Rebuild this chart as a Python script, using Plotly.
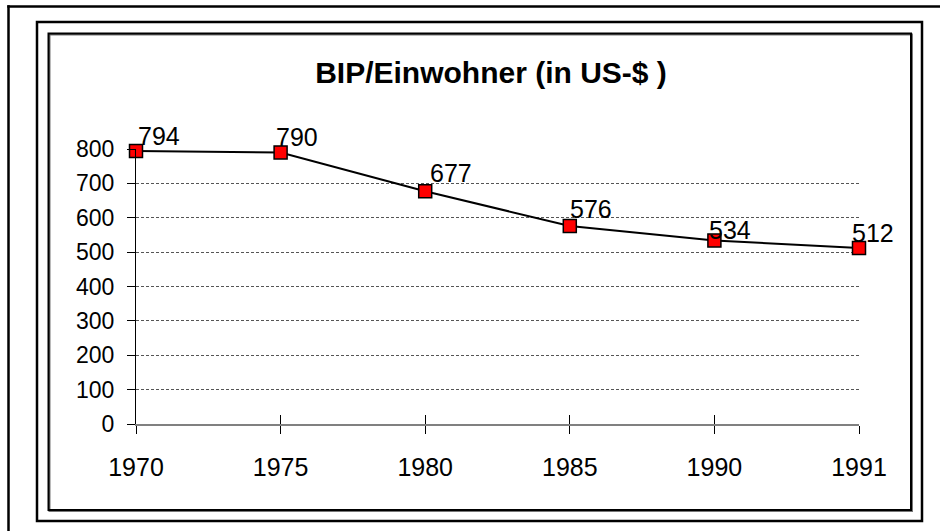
import plotly.graph_objects as go

# ---- data ----
years = ["1970", "1975", "1980", "1985", "1990", "1991"]
gdp_per_capita = [794, 790, 677, 576, 534, 512]
y_ticks = [0, 100, 200, 300, 400, 500, 600, 700, 800]
title_text = "BIP/Einwohner (in US-$ )"

# ---- label nudges (pixels), style only ----
label_dx = [0, -7, 3, -2, -7, -9]
label_dy = [-1, -1, 2, 1, -6, -1]

W, H = 940, 531
L, R, T, B = 136, 81, 149, 107
PW, PH = W - L - R, H - T - B

def px(x):
    return (x - L) / PW

def py(y):
    return (H - B - y) / PH

FONT = "Liberation Sans, Arial, sans-serif"
xs = list(range(len(years)))

fig = go.Figure()
fig.add_trace(go.Scatter(
    x=xs, y=gdp_per_capita, mode="lines+markers",
    line=dict(color="black", width=2),
    marker=dict(symbol="square", size=13, color="#ff0000",
                line=dict(color="black", width=1.5)),
    cliponaxis=False, showlegend=False, hoverinfo="skip",
))
# invisible trace for the overlay axis (inside tick halves)
fig.add_trace(go.Scatter(x=xs, y=gdp_per_capita, xaxis="x2", mode="markers",
                         marker=dict(opacity=0), showlegend=False, hoverinfo="skip"))

for i, v in enumerate(gdp_per_capita):
    fig.add_annotation(x=xs[i], y=v, text=str(v), showarrow=False,
                       xanchor="left", yanchor="bottom",
                       xshift=label_dx[i], yshift=label_dy[i],
                       font=dict(family=FONT, size=25, color="black"))

shapes = []
# outer frame: separate top and left lines
shapes.append(dict(type="line", xref="paper", yref="paper",
                   x0=px(7.3), x1=px(W + 20), y0=py(6.5), y1=py(6.5),
                   line=dict(color="black", width=2.5), layer="below"))
shapes.append(dict(type="line", xref="paper", yref="paper",
                   x0=px(8.5), x1=px(8.5), y0=py(5.3), y1=py(H + 20),
                   line=dict(color="black", width=2.5), layer="below"))
# middle frame
shapes.append(dict(type="rect", xref="paper", yref="paper",
                   x0=px(37), x1=px(922), y0=py(22), y1=py(521),
                   line=dict(color="black", width=2.5), layer="below"))
# chart frame shadow + frame
shapes.append(dict(type="rect", xref="paper", yref="paper",
                   x0=px(49.5), x1=px(912), y0=py(34.5), y1=py(511),
                   line=dict(color="#777777", width=2), layer="below"))
shapes.append(dict(type="rect", xref="paper", yref="paper",
                   x0=px(48.5), x1=px(911), y0=py(33.5), y1=py(510),
                   line=dict(color="black", width=2), layer="below"))

fig.update_layout(
    width=W, height=H,
    margin=dict(l=L, r=R, t=T, b=B),
    paper_bgcolor="white", plot_bgcolor="white",
    font=dict(family=FONT, color="black"),
    title=dict(text="<b>" + title_text + "</b>", xref="paper", yref="container",
               x=px(491), y=1 - 72 / H, xanchor="center", yanchor="middle",
               font=dict(family=FONT, size=30, color="black")),
    shapes=shapes,
    xaxis=dict(range=[0, 5], tickmode="array", tickvals=xs, ticktext=years,
               showgrid=False, zeroline=False,
               showline=True, linecolor="#808080", linewidth=2,
               ticks="outside", ticklen=8, tickwidth=1, tickcolor="black",
               tickfont=dict(family=FONT, size=25, color="black"),
               ticklabelstandoff=12, fixedrange=True),
    xaxis2=dict(range=[0, 5], overlaying="x", anchor="y", side="bottom",
                tickmode="array", tickvals=xs, showticklabels=False,
                showgrid=False, zeroline=False, showline=False,
                ticks="inside", ticklen=9, tickwidth=1, tickcolor="black"),
    yaxis=dict(range=[0, 800], tickmode="array", tickvals=y_ticks,
               showgrid=True, gridcolor="#555555", gridwidth=1, griddash="3px,2px",
               zeroline=False, showline=True, linecolor="black", linewidth=1,
               ticks="outside", ticklen=8, tickwidth=1, tickcolor="black",
               tickfont=dict(family=FONT, size=23, color="black"),
               ticklabelstandoff=8, fixedrange=True),
)

fig.write_html("out.html", config={"displayModeBar": False},
               post_script="document.body.style.margin='0';document.body.style.overflow='hidden';")
